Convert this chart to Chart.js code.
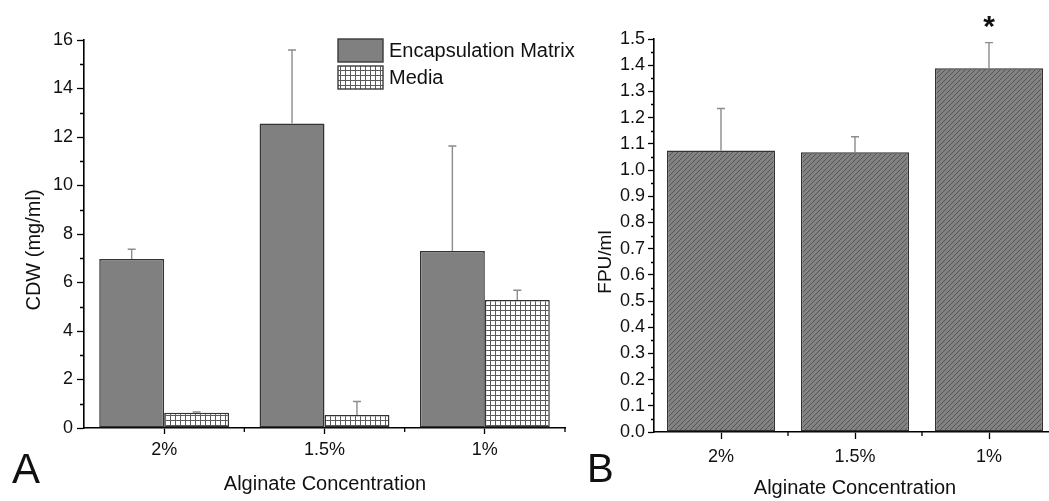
<!DOCTYPE html>
<html>
<head>
<meta charset="utf-8">
<title>Alginate concentration: CDW and FPU/ml</title>
<script src="https://cdn.jsdelivr.net/npm/chart.js@4.4.1/dist/chart.umd.min.js"></script>
<style>
  html, body { margin: 0; padding: 0; background: #fff; overflow: hidden; width: 1049px; height: 501px; }
  canvas { position: absolute; top: 0; }
  #chartA { left: 0; }
  #chartB { left: 560px; }
</style>
</head>
<body>
<canvas id="chartA" width="600" height="501"></canvas>
<canvas id="chartB" width="500" height="501"></canvas>
<script>
// ---- data ----
const categories = ['2%', '1.5%', '1%'];

// Panel A: cell dry weight (mg/ml)
const matrixCDW    = [6.97, 12.56, 7.30];
const matrixCDWErr = [0.40, 3.03, 4.33];
const mediaCDW     = [0.63, 0.54, 5.28];
const mediaCDWErr  = [0.03, 0.55, 0.40];
const cdwTicks      = [0, 2, 4, 6, 8, 10, 12, 14, 16];
const cdwMinorTicks = [1, 3, 5, 7, 9, 11, 13, 15];

// Panel B: filter paper activity (FPU/ml)
const activity      = [1.074, 1.068, 1.388];
const activityErr   = [0.161, 0.059, 0.098];
const activityMarks = ['', '', '*'];
const fpuTicks = [0.0, 0.1, 0.2, 0.3, 0.4, 0.5, 0.6, 0.7, 0.8, 0.9, 1.0, 1.1, 1.2, 1.3, 1.4, 1.5];
const fpuMinorTicks = [0.05, 0.15, 0.25, 0.35, 0.45, 0.55, 0.65, 0.75, 0.85, 0.95, 1.05, 1.15, 1.25, 1.35, 1.45];

const legendLabels = ['Encapsulation Matrix', 'Media'];
const FONT = "'Liberation Sans', Arial, Helvetica, sans-serif";

// ---- fill patterns ----
function gridPattern(ctx) {
  const c = document.createElement('canvas');
  c.width = 5; c.height = 5;
  const g = c.getContext('2d');
  g.fillStyle = '#ffffff';
  g.fillRect(0, 0, 5, 5);
  g.fillStyle = '#5a5a5a';
  g.fillRect(0, 0, 5, 1);
  g.fillRect(0, 0, 1, 5);
  return ctx.createPattern(c, 'repeat');
}
function hatchPattern(ctx) {
  const s = 5;
  const c = document.createElement('canvas');
  c.width = s; c.height = s;
  const g = c.getContext('2d');
  g.fillStyle = '#828282';
  g.fillRect(0, 0, s, s);
  g.strokeStyle = '#555555';
  g.lineWidth = 1;
  g.beginPath();
  g.moveTo(-1, s + 1); g.lineTo(s + 1, -1);
  g.moveTo(-1, 1); g.lineTo(1, -1);
  g.moveTo(s - 1, s + 1); g.lineTo(s + 1, s - 1);
  g.stroke();
  return ctx.createPattern(c, 'repeat');
}

// ---- plugins ----
// upper error bars from each dataset's "errors" array
const errorBars = {
  id: 'errorBars',
  afterDatasetsDraw(chart) {
    const ctx = chart.ctx;
    const y = chart.scales.y;
    chart.data.datasets.forEach((ds, di) => {
      if (!ds.errors) return;
      const meta = chart.getDatasetMeta(di);
      ctx.save();
      ctx.strokeStyle = ds.errorColor || '#888';
      ctx.lineWidth = 1.4;
      meta.data.forEach((bar, i) => {
        const top = y.getPixelForValue(ds.data[i] + ds.errors[i]);
        ctx.beginPath();
        ctx.moveTo(bar.x, bar.y);
        ctx.lineTo(bar.x, top);
        ctx.moveTo(bar.x - 4, top);
        ctx.lineTo(bar.x + 4, top);
        ctx.stroke();
      });
      ctx.restore();
    });
  }
};

// short unlabeled ticks: minor values on y, category boundaries on x
const minorTicks = {
  id: 'minorTicks',
  afterDraw(chart, args, opts) {
    const ctx = chart.ctx;
    const { x, y } = chart.scales;
    ctx.save();
    ctx.strokeStyle = '#000';
    ctx.lineWidth = 1.3;
    ctx.beginPath();
    (opts.yValues || []).forEach(v => {
      const py = Math.round(y.getPixelForValue(v)) + 0.5;
      ctx.moveTo(x.left - opts.yLength, py);
      ctx.lineTo(x.left, py);
    });
    const n = chart.data.labels.length;
    for (let k = 1; k <= n; k++) {
      const px = x.getPixelForValue(k - 0.5);
      ctx.moveTo(px, y.bottom);
      ctx.lineTo(px, y.bottom + opts.xLength);
    }
    ctx.stroke();
    ctx.restore();
  }
};

// axis titles and panel letters
const panelText = {
  id: 'panelText',
  afterDraw(chart, args, opts) {
    const ctx = chart.ctx;
    (opts.items || []).forEach(it => {
      ctx.save();
      ctx.fillStyle = '#111';
      ctx.font = it.font;
      ctx.textAlign = it.align || 'center';
      ctx.textBaseline = it.baseline || 'middle';
      ctx.translate(it.x, it.y);
      if (it.rotate) ctx.rotate(it.rotate);
      ctx.fillText(it.text, 0, 0);
      ctx.restore();
    });
  }
};

// legend boxes for panel A
const boxLegend = {
  id: 'boxLegend',
  afterDraw(chart, args, opts) {
    if (!opts.show) return;
    const ctx = chart.ctx;
    chart.data.datasets.forEach((ds, i) => {
      const bx = opts.x, by = opts.y + i * opts.rowHeight;
      ctx.save();
      ctx.fillStyle = ds.backgroundColor;
      ctx.fillRect(bx, by, opts.boxWidth, opts.boxHeight);
      ctx.strokeStyle = '#3a3a3a';
      ctx.lineWidth = 1.4;
      ctx.strokeRect(bx, by, opts.boxWidth, opts.boxHeight);
      ctx.fillStyle = '#111';
      ctx.font = opts.font;
      ctx.textAlign = 'left';
      ctx.textBaseline = 'middle';
      ctx.fillText(ds.label, bx + opts.boxWidth + 6, by + opts.boxHeight / 2 + 1);
      ctx.restore();
    });
  }
};

// significance marks above error bars
const sigMarks = {
  id: 'sigMarks',
  afterDatasetsDraw(chart, args, opts) {
    if (!opts.marks) return;
    const ctx = chart.ctx;
    const y = chart.scales.y;
    const ds = chart.data.datasets[0];
    const meta = chart.getDatasetMeta(0);
    ctx.save();
    ctx.fillStyle = '#111';
    ctx.font = opts.font;
    ctx.textAlign = 'center';
    ctx.textBaseline = 'alphabetic';
    meta.data.forEach((bar, i) => {
      if (!opts.marks[i]) return;
      const top = y.getPixelForValue(ds.data[i] + ds.errors[i]);
      ctx.fillText(opts.marks[i], bar.x, top - 7);
    });
    ctx.restore();
  }
};

function axisCommon(tickLength, padding) {
  return {
    border: { display: true, color: '#000', width: 1.6 },
    grid: { display: true, drawOnChartArea: false, drawTicks: true, tickLength: tickLength, tickColor: '#000', tickWidth: 1.3, color: '#000' },
    ticks: { color: '#111', font: { family: FONT, size: 18 }, padding: padding }
  };
}

Chart.defaults.font.family = FONT;
Chart.defaults.animation = false;

// ---- panel A ----
const ctxA = document.getElementById('chartA').getContext('2d');
const xA = axisCommon(6, 5);
xA.grid.offset = false;
xA.afterFit = s => { s.height = 73; };
const yA = axisCommon(7, 4);
Object.assign(yA, {
  min: 0, max: 16,
  afterBuildTicks: s => { s.ticks = cdwTicks.map(v => ({ value: v })); },
  afterFit: s => { s.width = 84; }
});
yA.ticks.callback = v => String(v);

new Chart(ctxA, {
  type: 'bar',
  data: {
    labels: categories,
    datasets: [
      { label: legendLabels[0], data: matrixCDW, errors: matrixCDWErr, errorColor: '#8c8c8c',
        backgroundColor: '#808080', borderColor: '#333333', borderWidth: 1.5, borderSkipped: false },
      { label: legendLabels[1], data: mediaCDW, errors: mediaCDWErr, errorColor: '#8c8c8c',
        backgroundColor: gridPattern(ctxA), borderColor: '#333333', borderWidth: 1.5, borderSkipped: false }
    ]
  },
  options: {
    responsive: false,
    layout: { padding: { top: 40, right: 35, left: 0, bottom: 0 } },
    datasets: { bar: { categoryPercentage: 0.81, barPercentage: 1.0 } },
    scales: { x: xA, y: yA },
    plugins: {
      legend: { display: false },
      tooltip: { enabled: false },
      minorTicks: { yValues: cdwMinorTicks, yLength: 4, xLength: 4 },
      boxLegend: { show: true, x: 338, y: 39, rowHeight: 27, boxWidth: 45, boxHeight: 23, font: `20px ${FONT}` },
      panelText: { items: [
        { text: 'CDW (mg/ml)', x: 34, y: 250, rotate: -Math.PI / 2, font: `20px ${FONT}` },
        { text: 'Alginate Concentration', x: 325, y: 484, font: `20px ${FONT}` },
        { text: 'A', x: 12, y: 483, align: 'left', baseline: 'alphabetic', font: `42px ${FONT}` }
      ] }
    }
  },
  plugins: [errorBars, minorTicks, boxLegend, panelText]
});

// ---- panel B ----
const ctxB = document.getElementById('chartB').getContext('2d');
const xB = axisCommon(7, 7);
xB.grid.offset = false;
xB.afterFit = s => { s.height = 69; };
const yB = axisCommon(6, 3);
Object.assign(yB, {
  min: 0, max: 1.5,
  afterBuildTicks: s => { s.ticks = fpuTicks.map(v => ({ value: v })); },
  afterFit: s => { s.width = 94; }
});
yB.ticks.callback = v => Number(v).toFixed(1);

new Chart(ctxB, {
  type: 'bar',
  data: {
    labels: categories,
    datasets: [
      { label: 'FPU/ml', data: activity, errors: activityErr, errorColor: '#8c8c8c',
        backgroundColor: hatchPattern(ctxB), borderColor: '#333333', borderWidth: 1.5, borderSkipped: false }
    ]
  },
  options: {
    responsive: false,
    layout: { padding: { top: 39, right: 4, left: 0, bottom: 0 } },
    datasets: { bar: { categoryPercentage: 0.806, barPercentage: 1.0 } },
    scales: { x: xB, y: yB },
    plugins: {
      legend: { display: false },
      tooltip: { enabled: false },
      minorTicks: { yValues: fpuMinorTicks, yLength: 3, xLength: 4 },
      sigMarks: { marks: activityMarks, font: `bold 30px ${FONT}` },
      panelText: { items: [
        { text: 'FPU/ml', x: 46, y: 262, rotate: -Math.PI / 2, font: `19px ${FONT}` },
        { text: 'Alginate Concentration', x: 295, y: 488, font: `20px ${FONT}` },
        { text: 'B', x: 27, y: 482, align: 'left', baseline: 'alphabetic', font: `40px ${FONT}` }
      ] }
    }
  },
  plugins: [errorBars, minorTicks, sigMarks, panelText]
});
</script>
</body>
</html>
